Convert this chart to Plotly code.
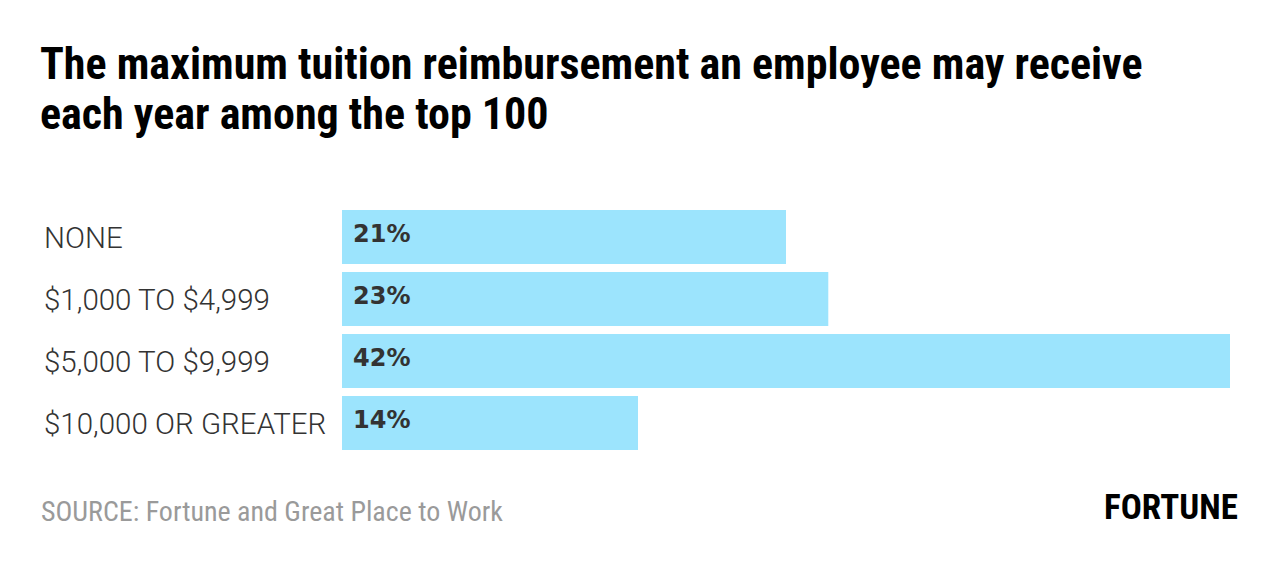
import plotly.graph_objects as go

categories = ["NONE", "$1,000 TO $4,999", "$5,000 TO $9,999", "$10,000 OR GREATER"]
values = [21, 23, 42, 14]
value_labels = [f"{v}%" for v in values]

title_lines = ["The maximum tuition reimbursement an employee may receive",
               "each year among the top 100"]
source_text = "SOURCE: Fortune and Great Place to Work"
brand_text = "FORTUNE"

OFF = 8  # page body margin
W, H = 1280, 570
L, R, T, B = 342 - OFF, 50 + OFF, 206 - OFF, 116 + OFF
plot_w = W - L - R
plot_h = H - T - B

def px_to_paper_x(px):
    return (px - OFF - L) / plot_w

def px_to_paper_y(py):
    return (H - B - (py - OFF)) / plot_h

fig = go.Figure()
fig.add_trace(go.Bar(
    x=values,
    y=categories,
    orientation="h",
    marker=dict(color="#9ce4fd", line=dict(width=0)),
    hoverinfo="skip",
))

annotations = []
for cat, lab in zip(categories, value_labels):
    annotations.append(dict(
        x=0, y=cat, xref="x", yref="y", text=lab, showarrow=False,
        xanchor="left", yanchor="middle", xshift=9, yshift=3,
        font=dict(family="DejaVu Sans", size=24, color="#333333", weight="bold"),
    ))
    annotations.append(dict(
        x=px_to_paper_x(42), y=cat, xref="paper", yref="y", text=cat, showarrow=False,
        xanchor="left", yanchor="middle", yshift=-1,
        font=dict(family="Roboto", size=29.5, color="#333333", weight=300),
    ))

for line, ypx in zip(title_lines, [64, 114]):
    annotations.append(dict(
        x=px_to_paper_x(38), y=px_to_paper_y(ypx), xref="paper", yref="paper",
        text=line, showarrow=False, xanchor="left", yanchor="middle",
        font=dict(family="Roboto Condensed, Roboto", size=44, color="#000000", weight="bold"),
    ))

annotations.append(dict(
    x=px_to_paper_x(39), y=px_to_paper_y(511), xref="paper", yref="paper",
    text=source_text, showarrow=False, xanchor="left", yanchor="middle",
    font=dict(family="Roboto Condensed, Roboto", size=28, color="#9a9a9a"),
))
annotations.append(dict(
    x=px_to_paper_x(1240), y=px_to_paper_y(507), xref="paper", yref="paper",
    text=brand_text, showarrow=False, xanchor="right", yanchor="middle",
    font=dict(family="Roboto Condensed, Roboto", size=35, color="#000000", weight="bold"),
))

fig.update_layout(
    width=W, height=H,
    margin=dict(l=L, r=R, t=T, b=B),
    paper_bgcolor="white", plot_bgcolor="white",
    showlegend=False,
    bargap=0.13,
    xaxis=dict(range=[0, 42], visible=False, fixedrange=True),
    yaxis=dict(categoryorder="array", categoryarray=categories, range=[3.5, -0.5],
               visible=False, fixedrange=True),
    annotations=annotations,
)

fig.write_html("out.html")
